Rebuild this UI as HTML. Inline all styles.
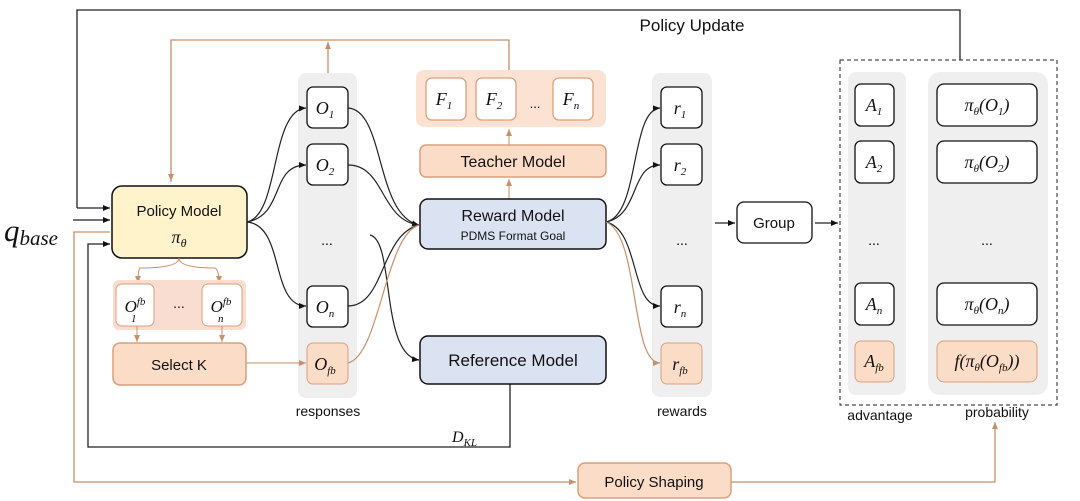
<!DOCTYPE html>
<html><head><meta charset="utf-8"><style>
body{margin:0;background:#fff;}
svg{display:block;font-family:"Comic Sans MS","Liberation Sans",sans-serif;}
.m{font-family:"Liberation Serif",serif;font-style:italic;}
</style></head><body>
<svg width="1080" height="501" viewBox="0 0 1080 501" xmlns="http://www.w3.org/2000/svg">
<defs>
<marker id="ab" markerWidth="8" markerHeight="8" refX="7" refY="4" orient="auto" markerUnits="userSpaceOnUse"><path d="M0,1 L7,4 L0,7z" fill="#111"/></marker>
<marker id="ao" markerWidth="8" markerHeight="8" refX="7" refY="4" orient="auto" markerUnits="userSpaceOnUse"><path d="M0,1 L7,4 L0,7z" fill="#c8906a"/></marker>
</defs>
<rect x="298" y="73" width="59" height="325" rx="8" fill="#efefef"/>
<rect x="652" y="73" width="60" height="324" rx="8" fill="#efefef"/>
<rect x="848" y="72" width="58" height="323" rx="8" fill="#efefef"/>
<rect x="928" y="72" width="120" height="323" rx="12" fill="#efefef"/>
<rect x="840" y="60" width="217" height="345" fill="none" stroke="#222" stroke-dasharray="4,3"/>
<path d="M77,208 V10 H960 V60" fill="none" stroke="#222" stroke-width="1.3"/>
<path d="M77,208 H110" stroke="#222" stroke-width="1.3" marker-end="url(#ab)"/>
<text x="692" y="31" font-size="17" text-anchor="middle" fill="#111">Policy Update</text>
<path d="M171,182 V40 H509 V70" fill="none" stroke="#c8906a" stroke-width="1.3"/>
<path d="M171,172 V181" stroke="#c8906a" marker-end="url(#ao)"/>
<path d="M328,73 V42" stroke="#c8906a" stroke-width="1.3" marker-end="url(#ao)"/>
<text x="4" y="241" class="m" font-size="31" fill="#111">q<tspan font-size="21" dy="4">base</tspan></text>
<path d="M73,220 H110" stroke="#222" stroke-width="1.3" marker-end="url(#ab)"/>
<path d="M110,232 H74 V482 H576" fill="none" stroke="#c8906a" stroke-width="1.3" marker-end="url(#ao)"/>
<path d="M510,384 V447 H88 V244 H110" fill="none" stroke="#222" stroke-width="1.3" marker-end="url(#ab)"/>
<text x="452" y="442" class="m" font-size="16" fill="#111">D<tspan font-size="11" dy="4">KL</tspan></text>
<path d="M731,482 H995 V422" fill="none" stroke="#c8906a" stroke-width="1.3" marker-end="url(#ao)"/>
<rect x="112" y="186" width="135" height="72" rx="10" fill="#fff3cc" stroke="#111" stroke-width="1.5"/>
<text x="179" y="216" font-size="15" text-anchor="middle" fill="#111">Policy Model</text>
<text x="179" y="243" class="m" font-size="18" text-anchor="middle" fill="#111">π<tspan font-size="12" dy="4">θ</tspan></text>
<path d="M179,258 Q179,268 140,268 Q138,270 138,283" fill="none" stroke="#c8906a" marker-end="url(#ao)"/>
<path d="M179,258 Q179,268 215,268 Q219,270 219,283" fill="none" stroke="#c8906a" marker-end="url(#ao)"/>
<rect x="113" y="280" width="133" height="50" rx="6" fill="#f9ddd0"/>
<rect x="116" y="284" width="38" height="42" rx="6" fill="#fff" stroke="#d9a07e"/>
<text x="135" y="312" class="m" font-size="17" text-anchor="middle" fill="#111">O<tspan font-size="11" dy="-7">fb</tspan></text>
<text x="131" y="322" class="m" font-size="11" fill="#111">1</text>
<text x="179" y="308" font-size="14" text-anchor="middle" fill="#111">...</text>
<rect x="202" y="284" width="40" height="42" rx="6" fill="#fff" stroke="#d9a07e"/>
<text x="221" y="312" class="m" font-size="17" text-anchor="middle" fill="#111">O<tspan font-size="11" dy="-7">fb</tspan></text>
<text x="218" y="322" class="m" font-size="11" fill="#111">n</text>
<path d="M137,326 V342" stroke="#c8906a" marker-end="url(#ao)"/>
<path d="M222,326 V342" stroke="#c8906a" marker-end="url(#ao)"/>
<rect x="113" y="343" width="133" height="42" rx="7" fill="#fbdcc7" stroke="#d9a07e" stroke-width="1.5"/>
<text x="179" y="370" font-size="15" text-anchor="middle" fill="#111">Select K</text>
<path d="M246,363 H306" stroke="#c8906a" marker-end="url(#ao)"/>
<g fill="none" stroke="#222" stroke-width="1.2">
<path d="M247,222 C280,215 270,110 306,108" marker-end="url(#ab)"/>
<path d="M247,222 C285,215 270,165 306,165" marker-end="url(#ab)"/>
<path d="M247,222 C285,225 270,306 306,306" marker-end="url(#ab)"/>
<path d="M348,108 C385,110 375,215 419,225" marker-end="url(#ab)"/>
<path d="M348,165 C385,165 380,220 419,225"/>
<path d="M348,306 C385,306 380,235 419,225"/>
<path d="M370,235 C395,240 380,355 419,360" marker-end="url(#ab)"/>
</g>
<path d="M348,363 C380,355 385,235 419,225" fill="none" stroke="#c8906a" stroke-width="1.2"/>
<g stroke="#111" stroke-width="1.3" fill="#fff">
<rect x="307" y="87" width="41" height="41" rx="6"/>
<rect x="307" y="144" width="41" height="41" rx="6"/>
<rect x="307" y="286" width="41" height="41" rx="6"/>
</g>
<rect x="307" y="343" width="41" height="41" rx="6" fill="#fbdcc7" stroke="#d9a07e"/>
<g class="m" font-size="18" fill="#111" text-anchor="middle">
<text x="325" y="114">O<tspan font-size="11" dy="4">1</tspan></text>
<text x="325" y="171">O<tspan font-size="11" dy="4">2</tspan></text>
<text x="325" y="313">O<tspan font-size="11" dy="4">n</tspan></text>
<text x="325" y="370">O<tspan font-size="11" dy="4">fb</tspan></text>
</g>
<text x="327" y="245" font-size="14" text-anchor="middle">...</text>
<text x="328" y="416" font-size="14" text-anchor="middle" fill="#111">responses</text>
<rect x="416" y="70" width="190" height="57" rx="8" fill="#fbe2d2"/>
<g fill="#fff" stroke="#d9a07e" stroke-width="1.3">
<rect x="426" y="78" width="40" height="42" rx="6"/>
<rect x="476" y="78" width="40" height="42" rx="6"/>
<rect x="553" y="78" width="40" height="42" rx="6"/>
</g>
<g class="m" font-size="18" fill="#111" text-anchor="middle">
<text x="444" y="105">F<tspan font-size="11" dy="4">1</tspan></text>
<text x="494" y="105">F<tspan font-size="11" dy="4">2</tspan></text>
<text x="571" y="105">F<tspan font-size="11" dy="4">n</tspan></text>
</g>
<text x="535" y="108" font-size="13" text-anchor="middle">...</text>
<path d="M509,145 V129" stroke="#c8906a" marker-end="url(#ao)"/>
<rect x="420" y="145" width="186" height="32" rx="6" fill="#fbdcc7" stroke="#d9a07e" stroke-width="1.5"/>
<text x="513" y="167" font-size="16" text-anchor="middle" fill="#111">Teacher Model</text>
<path d="M509,199 V179" stroke="#c8906a" marker-end="url(#ao)"/>
<rect x="420" y="199" width="186" height="50" rx="8" fill="#dbe3f3" stroke="#111" stroke-width="1.5"/>
<text x="513" y="221" font-size="16" text-anchor="middle" fill="#111">Reward Model</text>
<text x="513" y="240" font-size="12" text-anchor="middle" fill="#111">PDMS Format Goal</text>
<rect x="420" y="336" width="186" height="48" rx="8" fill="#dbe3f3" stroke="#111" stroke-width="1.5"/>
<text x="513" y="366" font-size="17" text-anchor="middle" fill="#111">Reference Model</text>
<g fill="none" stroke="#222" stroke-width="1.2">
<path d="M606,222 C640,215 630,110 660,108" marker-end="url(#ab)"/>
<path d="M606,222 C640,215 630,165 660,165" marker-end="url(#ab)"/>
<path d="M606,222 C640,230 630,306 660,306" marker-end="url(#ab)"/>
</g>
<path d="M606,222 C640,235 630,363 660,363" fill="none" stroke="#c8906a" stroke-width="1.2" marker-end="url(#ao)"/>
<g stroke="#111" stroke-width="1.3" fill="#fff">
<rect x="661" y="87" width="41" height="41" rx="6"/>
<rect x="661" y="144" width="41" height="41" rx="6"/>
<rect x="661" y="286" width="41" height="41" rx="6"/>
</g>
<rect x="661" y="343" width="41" height="41" rx="6" fill="#fbdcc7" stroke="#d9a07e"/>
<g class="m" font-size="18" fill="#111" text-anchor="middle">
<text x="680" y="114">r<tspan font-size="11" dy="4">1</tspan></text>
<text x="680" y="171">r<tspan font-size="11" dy="4">2</tspan></text>
<text x="680" y="313">r<tspan font-size="11" dy="4">n</tspan></text>
<text x="680" y="370">r<tspan font-size="11" dy="4">fb</tspan></text>
</g>
<text x="682" y="245" font-size="14" text-anchor="middle">...</text>
<text x="682" y="416" font-size="14" text-anchor="middle" fill="#111">rewards</text>
<path d="M715,223 H735" stroke="#222" stroke-width="1.3" marker-end="url(#ab)"/>
<rect x="737" y="202" width="75" height="41" rx="7" fill="#fff" stroke="#111" stroke-width="1.3"/>
<text x="774" y="228" font-size="15" text-anchor="middle" fill="#111">Group</text>
<path d="M815,223 H838" stroke="#222" stroke-width="1.3" marker-end="url(#ab)"/>
<g stroke="#111" stroke-width="1.3" fill="#fff">
<rect x="855" y="84" width="39" height="42" rx="6"/>
<rect x="855" y="141" width="39" height="42" rx="6"/>
<rect x="855" y="283" width="39" height="42" rx="6"/>
<rect x="937" y="84" width="100" height="42" rx="7"/>
<rect x="937" y="141" width="100" height="42" rx="7"/>
<rect x="937" y="283" width="100" height="42" rx="7"/>
</g>
<rect x="855" y="341" width="39" height="41" rx="6" fill="#fbdcc7" stroke="#d9a07e"/>
<rect x="937" y="341" width="100" height="41" rx="7" fill="#fbdcc7" stroke="#d9a07e"/>
<g class="m" font-size="18" fill="#111" text-anchor="middle">
<text x="874" y="111">A<tspan font-size="11" dy="4">1</tspan></text>
<text x="874" y="168">A<tspan font-size="11" dy="4">2</tspan></text>
<text x="874" y="310">A<tspan font-size="11" dy="4">n</tspan></text>
<text x="874" y="367">A<tspan font-size="11" dy="4">fb</tspan></text>
<text x="987" y="111">π<tspan font-size="11" dy="4">θ</tspan><tspan dy="-4">(O</tspan><tspan font-size="11" dy="4">1</tspan><tspan dy="-4">)</tspan></text>
<text x="987" y="168">π<tspan font-size="11" dy="4">θ</tspan><tspan dy="-4">(O</tspan><tspan font-size="11" dy="4">2</tspan><tspan dy="-4">)</tspan></text>
<text x="987" y="310">π<tspan font-size="11" dy="4">θ</tspan><tspan dy="-4">(O</tspan><tspan font-size="11" dy="4">n</tspan><tspan dy="-4">)</tspan></text>
<text x="987" y="367">f(π<tspan font-size="11" dy="4">θ</tspan><tspan dy="-4">(O</tspan><tspan font-size="11" dy="4">fb</tspan><tspan dy="-4">))</tspan></text>
</g>
<text x="874" y="245" font-size="14" text-anchor="middle">...</text>
<text x="987" y="245" font-size="14" text-anchor="middle">...</text>
<text x="880" y="420" font-size="14" text-anchor="middle" fill="#111">advantage</text>
<text x="997" y="417" font-size="14" text-anchor="middle" fill="#111">probability</text>
<rect x="578" y="463" width="153" height="35" rx="7" fill="#fbdcc7" stroke="#d9a07e" stroke-width="1.5"/>
<text x="654" y="487" font-size="15" text-anchor="middle" fill="#111">Policy Shaping</text>
</svg>
</body></html>
